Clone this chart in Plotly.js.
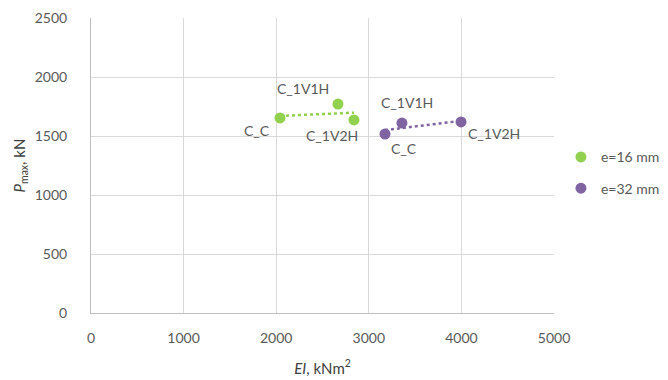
<!DOCTYPE html>
<html><head><meta charset="utf-8">
<script src="https://cdn.plot.ly/plotly-3.0.1.min.js"></script>
<style>body{margin:0;background:#fff}#c{width:668px;height:380px}</style>
</head><body><div id="c"></div>
<script>
const seriesNames = ['e=16 mm', 'e=32 mm'];
const labels16 = ['C_C', 'C_1V1H', 'C_1V2H'];
const ei16 = [2041, 2667, 2840];
const p16 = [1653, 1771, 1636];
const labels32 = ['C_C', 'C_1V1H', 'C_1V2H'];
const ei32 = [3175, 3358, 3996];
const p32 = [1517, 1610, 1619];
const xTicks = [0, 1000, 2000, 3000, 4000, 5000];
const yTicks = [0, 500, 1000, 1500, 2000, 2500];

const colors = ['#92d050', '#8064a2'];
const shifts16 = [[-23, -13], [-35, 16], [-22, -16]];
const shifts32 = [[19, -15], [5, 21], [33, -12]];

function fit(x, y) {
  const n = x.length;
  const mx = x.reduce((a, b) => a + b, 0) / n;
  const my = y.reduce((a, b) => a + b, 0) / n;
  let sxx = 0, sxy = 0;
  for (let i = 0; i < n; i++) { sxx += (x[i] - mx) ** 2; sxy += (x[i] - mx) * (y[i] - my); }
  const b = sxy / sxx, a = my - b * mx;
  const xs = [Math.min(...x), Math.max(...x)];
  return { x: xs, y: xs.map(v => a + b * v) };
}

const f16 = fit(ei16, p16), f32 = fit(ei32, p32);
const data = [
  { x: f16.x, y: f16.y, mode: 'lines', line: { color: colors[0], dash: 'dot', width: 2.5 }, showlegend: false, hoverinfo: 'skip' },
  { x: f32.x, y: f32.y, mode: 'lines', line: { color: colors[1], dash: 'dot', width: 2.5 }, showlegend: false, hoverinfo: 'skip' },
  { x: ei16, y: p16, mode: 'markers', name: seriesNames[0], legendgroup: 'a', marker: { color: colors[0], size: 11 } },
  { x: ei32, y: p32, mode: 'markers', name: seriesNames[1], legendgroup: 'b', marker: { color: colors[1], size: 11 } }
];

const FONT = 'Lato, sans-serif';
const annFont = { family: FONT, size: 14, color: '#595959' };
const annotations = [];
labels16.forEach((t, i) => annotations.push({ x: ei16[i], y: p16[i], text: t, showarrow: false, xshift: shifts16[i][0], yshift: shifts16[i][1], font: annFont }));
labels32.forEach((t, i) => annotations.push({ x: ei32[i], y: p32[i], text: t, showarrow: false, xshift: shifts32[i][0], yshift: shifts32[i][1], font: annFont }));

const tickFont = { family: FONT, size: 14, color: '#595959' };
const layout = {
  width: 668, height: 380,
  margin: { l: 91, r: 114, t: 18, b: 67, autoexpand: false },
  paper_bgcolor: '#fff', plot_bgcolor: '#fff',
  font: tickFont,
  xaxis: {
    range: [0, 5000], tickvals: xTicks, ticktext: xTicks.map(String),
    showgrid: true, gridcolor: '#d9d9d9', gridwidth: 1,
    zeroline: false, showline: true, linecolor: '#bfbfbf', linewidth: 1,
    ticks: 'outside', ticklen: 12, tickcolor: 'rgba(0,0,0,0)', tickfont: tickFont,
    title: { text: '<i>EI</i>, kNm<sup>2</sup>', font: { family: FONT, size: 15, color: '#404040' }, standoff: 18 }
  },
  yaxis: {
    range: [0, 2500], tickvals: yTicks, ticktext: yTicks.map(String),
    showgrid: true, gridcolor: '#d9d9d9', gridwidth: 1,
    zeroline: false, showline: true, linecolor: '#bfbfbf', linewidth: 1,
    ticks: 'outside', ticklen: 20, tickcolor: 'rgba(0,0,0,0)', tickfont: tickFont,
    title: { text: '<i>P</i><sub>max</sub>, kN', font: { family: FONT, size: 15, color: '#404040' }, standoff: 5 }
  },
  legend: { x: 1.015, y: 0.475, xanchor: 'left', yanchor: 'middle', traceorder: 'grouped', tracegroupgap: 10, font: { family: FONT, size: 14, color: '#595959' }, itemwidth: 30 },
  annotations: annotations
};
Plotly.newPlot('c', data, layout, { staticPlot: true, displayModeBar: false });
</script></body></html>
